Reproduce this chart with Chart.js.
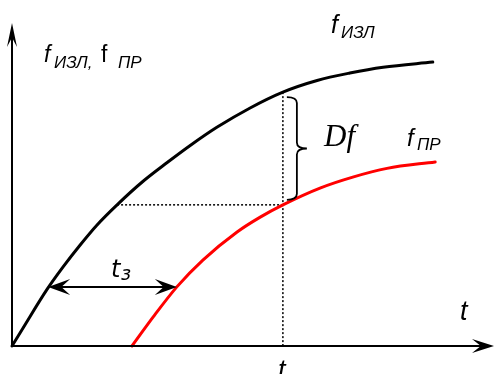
<!DOCTYPE html>
<html>
<head>
<meta charset="utf-8">
<script src="https://cdn.jsdelivr.net/npm/chart.js@4"></script>
<style>
  html, body { margin: 0; padding: 0; background: #fff; }
  canvas { display: block; }
</style>
</head>
<body>
<canvas id="chart" width="495" height="374"></canvas>
<script>
// emitted frequency f_ИЗЛ and received frequency f_ПР over time
const emitT = [0, 0.23, 0.73, 1.06, 1.41, 1.76, 2.18, 2.72, 3.22, 3.69, 4.25, 4.94, 5.62, 6.33, 7.01, 7.70, 8.73];
const emitF = [0, 0.56, 1.76, 2.45, 3.12, 3.74, 4.37, 5.10, 5.68, 6.20, 6.77, 7.37, 7.86, 8.22, 8.45, 8.63, 8.79];
const recvT = [2.49, 2.93, 3.42, 3.96, 4.67, 5.15, 5.62, 6.39, 7.07, 7.78, 8.78];
const recvF = [0, 0.90, 1.83, 2.66, 3.53, 3.99, 4.37, 4.89, 5.23, 5.50, 5.70];

// moment t where the gap Df is read, and the delay t_з
const tMark = 5.62;
const fAtMarkEmit = 7.86;
const fAtMarkRecv = 4.37;
const dotFrom = 2.18;
const delayLevel = 1.83;
const delayFrom = 0.75;
const delayTo = 3.42;

const pts = (xs, ys) => xs.map((x, i) => ({ x, y: ys[i] }));

// concave arrow head pointing along (dx, dy)
function arrowHead(ctx, x, y, dx, dy, len, half) {
  const n = Math.hypot(dx, dy);
  const ux = dx / n, uy = dy / n;
  const px = -uy, py = ux;
  ctx.beginPath();
  ctx.moveTo(x, y);
  ctx.lineTo(x - ux * len + px * half, y - uy * len + py * half);
  ctx.lineTo(x - ux * len * 0.6, y - uy * len * 0.6);
  ctx.lineTo(x - ux * len - px * half, y - uy * len - py * half);
  ctx.closePath();
  ctx.fill();
}

function runs(ctx, items) {
  items.forEach(r => {
    ctx.font = r.font;
    ctx.fillText(r.text, r.x, r.y);
  });
}

const extras = {
  id: 'extras',
  afterDatasetsDraw(chart) {
    const { ctx, scales: { x, y } } = chart;
    const X = v => x.getPixelForValue(v);
    const Y = v => y.getPixelForValue(v);
    ctx.save();
    ctx.strokeStyle = '#000';
    ctx.fillStyle = '#000';
    ctx.lineCap = 'butt';

    // axes
    ctx.lineWidth = 2;
    ctx.beginPath();
    ctx.moveTo(X(0), Y(0));
    ctx.lineTo(X(0), Y(10) + 10);
    ctx.moveTo(X(0), Y(0));
    ctx.lineTo(X(10) - 10, Y(0));
    ctx.stroke();
    arrowHead(ctx, X(0), Y(10), 0, -1, 24, 5);
    arrowHead(ctx, X(10), Y(0), 1, 0, 22, 7);

    // delay arrow t_з
    const ay = Y(delayLevel);
    ctx.beginPath();
    ctx.moveTo(X(delayFrom) + 10, ay);
    ctx.lineTo(X(delayTo) - 10, ay);
    ctx.stroke();
    arrowHead(ctx, X(delayFrom), ay, -1, 0, 22, 8);
    arrowHead(ctx, X(delayTo), ay, 1, 0, 22, 8);

    // brace between the two curves at tMark
    const bx = X(tMark) + 4;
    const top = Y(fAtMarkEmit) + 5;
    const bot = Y(fAtMarkRecv) - 5;
    const mid = (top + bot) / 2;
    const sx = bx + 10, tip = bx + 20, r = 6;
    ctx.lineWidth = 1.8;
    ctx.beginPath();
    ctx.moveTo(bx, top);
    ctx.quadraticCurveTo(sx, top, sx, top + r);
    ctx.lineTo(sx, mid - r);
    ctx.quadraticCurveTo(sx, mid, tip, mid);
    ctx.quadraticCurveTo(sx, mid, sx, mid + r);
    ctx.lineTo(sx, bot - r);
    ctx.quadraticCurveTo(sx, bot, bx, bot);
    ctx.stroke();

    // labels
    ctx.textBaseline = 'alphabetic';
    const sI = (s) => 'italic ' + s + 'px "Liberation Sans", Arial, sans-serif';
    const sN = (s) => s + 'px "Liberation Sans", Arial, sans-serif';
    const dI = (s) => 'oblique ' + s + 'px "DejaVu Sans", sans-serif';
    runs(ctx, [
      { text: 'f', font: sI(23), x: 44, y: 62 },
      { text: 'ИЗЛ,', font: sI(17), x: 54, y: 68 },
      { text: 'f', font: sN(23), x: 101, y: 62 },
      { text: 'ПР', font: sI(17), x: 118, y: 68 },
      { text: 'f', font: sI(25), x: 331, y: 33 },
      { text: 'ИЗЛ', font: sI(17), x: 341, y: 38 },
      { text: 'f', font: sI(24), x: 407, y: 146 },
      { text: 'ПР', font: sI(17), x: 417, y: 150 },
      { text: 't', font: dI(24), x: 111, y: 277 },
      { text: 'з', font: dI(19), x: 121, y: 280 },
      { text: 't', font: sI(27), x: 460, y: 320 },
      { text: 't', font: sI(27), x: 278, y: 379 },
      { text: 'Df', font: 'italic 31px "Liberation Serif", "Times New Roman", serif', x: 324, y: 146 }
    ]);
    ctx.restore();
  }
};

new Chart(document.getElementById('chart'), {
  type: 'scatter',
  data: {
    datasets: [
      {
        data: pts(emitT, emitF),
        showLine: true, borderColor: '#000', borderWidth: 3,
        cubicInterpolationMode: 'monotone', pointRadius: 0, clip: false,
        borderCapStyle: 'round'
      },
      {
        data: pts(recvT, recvF),
        showLine: true, borderColor: '#ff0000', borderWidth: 3,
        cubicInterpolationMode: 'monotone', pointRadius: 0, clip: false,
        borderCapStyle: 'round'
      },
      {
        data: [{ x: dotFrom, y: fAtMarkRecv }, { x: tMark, y: fAtMarkRecv }],
        showLine: true, borderColor: '#000', borderWidth: 1.5,
        borderDash: [2, 2], pointRadius: 0
      },
      {
        data: [{ x: tMark, y: fAtMarkEmit }, { x: tMark, y: 0 }],
        showLine: true, borderColor: '#000', borderWidth: 1.5,
        borderDash: [2, 2], pointRadius: 0
      }
    ]
  },
  options: {
    responsive: false,
    animation: false,
    layout: { padding: { left: 12, top: 23, right: 1, bottom: 28 } },
    scales: {
      x: { type: 'linear', min: 0, max: 10, display: false },
      y: { type: 'linear', min: 0, max: 10, display: false }
    },
    plugins: { legend: { display: false }, tooltip: { enabled: false } }
  },
  plugins: [extras]
});
</script>
</body>
</html>
